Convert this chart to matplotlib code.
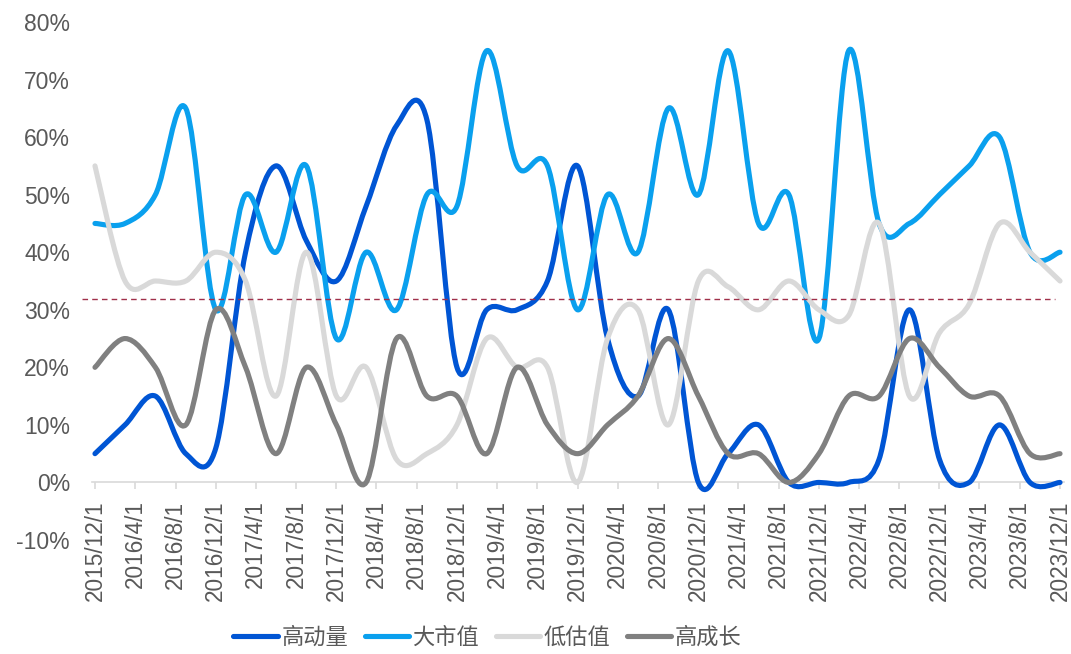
import numpy as np
import pandas as pd
import matplotlib
matplotlib.use('Agg')
import matplotlib.pyplot as plt
import matplotlib.dates as mdates
from matplotlib.path import Path
from matplotlib.patches import PathPatch
from matplotlib.lines import Line2D
from matplotlib.ticker import FuncFormatter, MultipleLocator

plt.rcParams['font.family'] = ['Liberation Sans', 'Noto Sans CJK SC', 'DejaVu Sans']
plt.rcParams['axes.unicode_minus'] = False

# ── Data: quarterly share (%) ───────────────────────────────────────────
DATES = pd.date_range('2015-12-01', '2023-12-01', freq='3MS')
TICK_DATES = pd.date_range('2015-12-01', '2023-12-01', freq='4MS')

SERIES_NAMES = ['高动量', '大市值', '低估值', '高成长']

MOMENTUM = [5, 10, 15, 5, 6, 40, 55, 42, 35, 48, 62, 63, 20, 30, 30, 35, 55,
            25, 15, 30, 0, 5, 10, 0, 0, 0, 4, 30, 4, 0, 10, 0, 0]
LARGE_CAP = [45, 45, 50, 65, 30, 50, 40, 55, 25, 40, 30, 50, 48, 75, 55, 55, 30,
             50, 40, 65, 50, 75, 45, 50, 25, 75, 45, 45, 50, 55, 60, 40, 40]
LOW_VALUE = [55, 35, 35, 35, 40, 35, 15, 40, 15, 20, 4, 5, 10, 25, 20, 20, 0,
             25, 30, 10, 35, 34, 30, 35, 30, 29, 45, 15, 26, 31, 45, 40, 35]
HIGH_GROWTH = [20, 25, 20, 10, 30, 20, 5, 20, 10, 0, 25, 15, 15, 5, 20, 10, 5,
               10, 15, 25, 15, 5, 5, 0, 5, 15, 15, 25, 20, 15, 15, 5, 5]

REF_LEVEL = 31.8

COLORS = ['#0055D4', '#0AA0EE', '#D9D9D9', '#808080']
TEXT_COLOR = '#595959'
AXIS_COLOR = '#D9D9D9'


def smooth_path(x, y):
    """Excel-style smoothed line: cubic Bezier segments with Catmull-Rom tangents."""
    pts = np.column_stack([x, y]).astype(float)
    n = len(pts)
    verts = [pts[0]]
    codes = [Path.MOVETO]
    for i in range(n - 1):
        p0 = pts[i - 1] if i > 0 else pts[i]
        p1 = pts[i]
        p2 = pts[i + 1]
        p3 = pts[i + 2] if i + 2 < n else pts[i + 1]
        c1 = p1 + (p2 - p0) / 6.0
        c2 = p2 - (p3 - p1) / 6.0
        verts += [c1, c2, p2]
        codes += [Path.CURVE4] * 3
    return Path(verts, codes)


fig = plt.figure(figsize=(10.71, 6.54), dpi=100)
W, H = 1071, 654
ax = fig.add_axes([92 / W, 1 - 540 / H, (1064 - 92) / W, (540 - 22) / H])

xd = mdates.date2num(DATES.to_pydatetime())
x0 = mdates.date2num(pd.Timestamp('2015-12-01').to_pydatetime())
x1 = mdates.date2num(pd.Timestamp('2023-12-01').to_pydatetime())
ax.set_xlim(x0 - 9, x1 + 12)
ax.set_ylim(-10, 80)

for vals, color in zip([MOMENTUM, LARGE_CAP, LOW_VALUE, HIGH_GROWTH], COLORS):
    patch = PathPatch(smooth_path(xd, vals), facecolor='none', edgecolor=color,
                      lw=3.7, capstyle='round', joinstyle='round', zorder=3)
    ax.add_patch(patch)

# reference level
ax.plot([-0.0106, 0.9907], [REF_LEVEL, REF_LEVEL], transform=ax.get_yaxis_transform(),
        color='#A0304A', lw=1.0, ls=(0, (4, 3)), clip_on=False, zorder=5)

# ── Axes styling ────────────────────────────────────────────────────────
for side in ['top', 'right', 'left']:
    ax.spines[side].set_visible(False)
ax.spines['bottom'].set_position(('data', 0))
ax.spines['bottom'].set_color(AXIS_COLOR)
ax.spines['bottom'].set_linewidth(1.2)

ax.set_xticks(mdates.date2num(TICK_DATES.to_pydatetime()))
ax.set_xticklabels([f'{d.year}/{d.month}/{d.day}' for d in TICK_DATES],
                   rotation=90, fontsize=16.3, color=TEXT_COLOR)
ax.tick_params(axis='x', direction='out', length=5, width=1.2,
               color=AXIS_COLOR, pad=8)

ax.yaxis.set_major_locator(MultipleLocator(10))
ax.yaxis.set_major_formatter(FuncFormatter(lambda v, _: f'{v:.0f}%'))
ax.tick_params(axis='y', length=0, pad=15.8, labelsize=16.5, labelcolor=TEXT_COLOR)

# ── Legend ──────────────────────────────────────────────────────────────
handles = [Line2D([0], [0], color=c, lw=3.7, solid_capstyle='round', label=n)
           for c, n in zip(COLORS, SERIES_NAMES)]
fig.legend(handles=handles, loc='center', ncol=4, frameon=False,
           bbox_to_anchor=(487.5 / W, 1 - 638 / H), fontsize=16,
           handlelength=2.0, handletextpad=0.15, columnspacing=0.75,
           labelcolor=TEXT_COLOR, borderpad=0.2)

fig.savefig('out.png', dpi=100, facecolor='white')
